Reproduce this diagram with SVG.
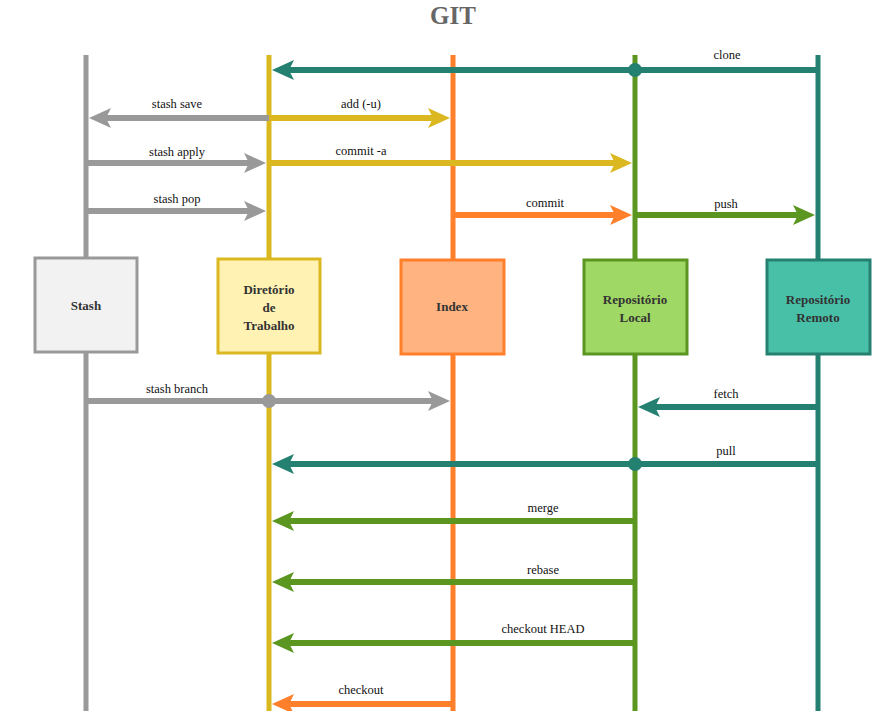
<svg xmlns="http://www.w3.org/2000/svg" width="884" height="711" viewBox="0 0 884 711">
<style>
.lane{stroke-width:5;fill:none}
.arr{stroke-width:6;fill:none}
.lbl{font-size:12.5px;fill:#111;text-anchor:middle}
.box{stroke-width:3}
.bt{font-size:13px;font-weight:bold;fill:#333;text-anchor:middle}
.ttl{font-size:25px;font-weight:bold;fill:#666666;text-anchor:middle}
.gray{stroke:#999999}.yel{stroke:#dbb820}.ora{stroke:#ff7f2a}.grn{stroke:#5b9621}.teal{stroke:#248070}
</style>
<defs>
<marker id="mGray" viewBox="0 0 22 20" refX="5" refY="10" markerWidth="22" markerHeight="20" markerUnits="userSpaceOnUse" orient="auto"><path d="M0,0 L22,10 L0,20 L5,10 Z" fill="#999999"/></marker>
<marker id="mYel" viewBox="0 0 22 20" refX="5" refY="10" markerWidth="22" markerHeight="20" markerUnits="userSpaceOnUse" orient="auto"><path d="M0,0 L22,10 L0,20 L5,10 Z" fill="#dbb820"/></marker>
<marker id="mOra" viewBox="0 0 22 20" refX="5" refY="10" markerWidth="22" markerHeight="20" markerUnits="userSpaceOnUse" orient="auto"><path d="M0,0 L22,10 L0,20 L5,10 Z" fill="#ff7f2a"/></marker>
<marker id="mGrn" viewBox="0 0 22 20" refX="5" refY="10" markerWidth="22" markerHeight="20" markerUnits="userSpaceOnUse" orient="auto"><path d="M0,0 L22,10 L0,20 L5,10 Z" fill="#5b9621"/></marker>
<marker id="mTeal" viewBox="0 0 22 20" refX="5" refY="10" markerWidth="22" markerHeight="20" markerUnits="userSpaceOnUse" orient="auto"><path d="M0,0 L22,10 L0,20 L5,10 Z" fill="#248070"/></marker>
</defs>
<rect width="884" height="711" fill="#ffffff"/>
<g font-family="Liberation Serif, serif">
<text class="ttl" x="453" y="24">GIT</text>
<g id="lanes">
<line class="lane gray" x1="86" y1="55" x2="86" y2="711"/>
<line class="lane yel" x1="269" y1="55" x2="269" y2="711"/>
<line class="lane ora" x1="453" y1="55" x2="453" y2="711"/>
<line class="lane grn" x1="635" y1="55" x2="635" y2="711"/>
<line class="lane teal" x1="818" y1="55" x2="818" y2="711"/>
</g>
<g id="connectors">
<line class="arr teal" x1="818" y1="70" x2="289" y2="70" marker-end="url(#mTeal)"/>
<circle cx="635" cy="70" r="7" fill="#248070"/>
<text class="lbl" x="727" y="59">clone</text>
<line class="arr gray" x1="269" y1="118" x2="106" y2="118" marker-end="url(#mGray)"/>
<text class="lbl" x="177" y="108">stash save</text>
<line class="arr yel" x1="269" y1="118" x2="433" y2="118" marker-end="url(#mYel)"/>
<text class="lbl" x="361" y="108">add (-u)</text>
<line class="arr gray" x1="86" y1="163" x2="249" y2="163" marker-end="url(#mGray)"/>
<text class="lbl" x="177" y="156">stash apply</text>
<line class="arr yel" x1="269" y1="163" x2="615" y2="163" marker-end="url(#mYel)"/>
<text class="lbl" x="361" y="155">commit -a</text>
<line class="arr gray" x1="86" y1="211" x2="249" y2="211" marker-end="url(#mGray)"/>
<text class="lbl" x="177" y="203">stash pop</text>
<line class="arr ora" x1="453" y1="215" x2="615" y2="215" marker-end="url(#mOra)"/>
<text class="lbl" x="545" y="207">commit</text>
<line class="arr grn" x1="635" y1="215" x2="798" y2="215" marker-end="url(#mGrn)"/>
<text class="lbl" x="726" y="208">push</text>
<line class="arr gray" x1="86" y1="401" x2="433" y2="401" marker-end="url(#mGray)"/>
<circle cx="269" cy="401" r="7" fill="#999999"/>
<text class="lbl" x="177" y="393">stash branch</text>
<line class="arr teal" x1="818" y1="407" x2="655" y2="407" marker-end="url(#mTeal)"/>
<text class="lbl" x="726" y="398">fetch</text>
<line class="arr teal" x1="818" y1="464" x2="289" y2="464" marker-end="url(#mTeal)"/>
<circle cx="635" cy="464" r="7" fill="#248070"/>
<text class="lbl" x="726" y="455">pull</text>
<line class="arr grn" x1="635" y1="521" x2="289" y2="521" marker-end="url(#mGrn)"/>
<text class="lbl" x="543" y="512">merge</text>
<line class="arr grn" x1="635" y1="582" x2="289" y2="582" marker-end="url(#mGrn)"/>
<text class="lbl" x="543" y="574">rebase</text>
<line class="arr grn" x1="635" y1="643" x2="289" y2="643" marker-end="url(#mGrn)"/>
<text class="lbl" x="543" y="633">checkout HEAD</text>
<line class="arr ora" x1="453" y1="704" x2="289" y2="704" marker-end="url(#mOra)"/>
<text class="lbl" x="361" y="694">checkout</text>
</g>
<g id="stash">
<rect class="box gray" x="35" y="258" width="102" height="94" fill="#f2f2f2"/>
<text class="bt" x="86" y="310">Stash</text>
</g>
<g id="diretorio">
<rect class="box yel" x="218" y="259" width="102" height="94" fill="#fff2b3"/>
<text class="bt" x="269" y="294">Diretório</text>
<text class="bt" x="269" y="312">de</text>
<text class="bt" x="269" y="330">Trabalho</text>
</g>
<g id="index">
<rect class="box ora" x="401" y="260" width="103" height="94" fill="#ffb380"/>
<text class="bt" x="452" y="311">Index</text>
</g>
<g id="local">
<rect class="box grn" x="584" y="260" width="103" height="94" fill="#a0d865"/>
<text class="bt" x="635" y="304">Repositório</text>
<text class="bt" x="635" y="322">Local</text>
</g>
<g id="remoto">
<rect class="box teal" x="767" y="260" width="103" height="94" fill="#48c0a8"/>
<text class="bt" x="818" y="304">Repositório</text>
<text class="bt" x="818" y="322">Remoto</text>
</g>
</g>
</svg>
